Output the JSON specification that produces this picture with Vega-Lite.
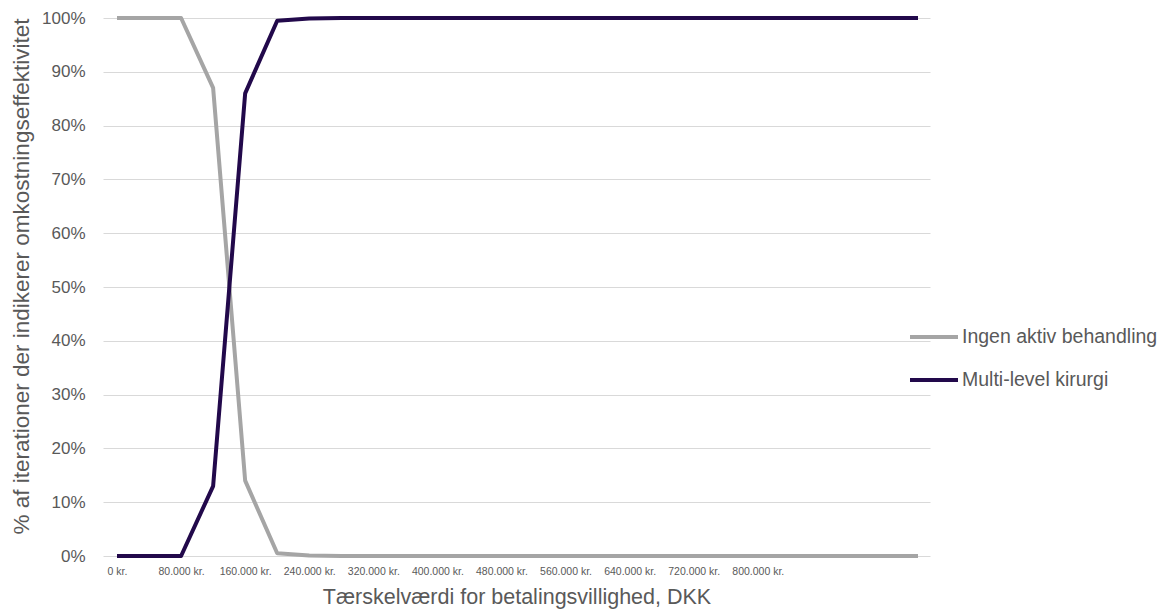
{
  "$schema": "https://vega.github.io/schema/vega-lite/v6.json",
  "width": 827,
  "height": 538,
  "autosize": "none",
  "padding": {"left": 103, "top": 18, "right": 230, "bottom": 59},
  "background": "white",
  "config": {
    "view": {"stroke": null},
    "font": "Liberation Sans"
  },
  "data": {
    "values": [
      {"wtp": 0, "serie": "Ingen aktiv behandling", "andel": 1.0},
      {"wtp": 40000, "serie": "Ingen aktiv behandling", "andel": 1.0},
      {"wtp": 80000, "serie": "Ingen aktiv behandling", "andel": 1.0},
      {"wtp": 120000, "serie": "Ingen aktiv behandling", "andel": 0.87},
      {"wtp": 160000, "serie": "Ingen aktiv behandling", "andel": 0.14},
      {"wtp": 200000, "serie": "Ingen aktiv behandling", "andel": 0.005},
      {"wtp": 240000, "serie": "Ingen aktiv behandling", "andel": 0.001},
      {"wtp": 280000, "serie": "Ingen aktiv behandling", "andel": 0.0},
      {"wtp": 320000, "serie": "Ingen aktiv behandling", "andel": 0.0},
      {"wtp": 360000, "serie": "Ingen aktiv behandling", "andel": 0.0},
      {"wtp": 400000, "serie": "Ingen aktiv behandling", "andel": 0.0},
      {"wtp": 440000, "serie": "Ingen aktiv behandling", "andel": 0.0},
      {"wtp": 480000, "serie": "Ingen aktiv behandling", "andel": 0.0},
      {"wtp": 520000, "serie": "Ingen aktiv behandling", "andel": 0.0},
      {"wtp": 560000, "serie": "Ingen aktiv behandling", "andel": 0.0},
      {"wtp": 600000, "serie": "Ingen aktiv behandling", "andel": 0.0},
      {"wtp": 640000, "serie": "Ingen aktiv behandling", "andel": 0.0},
      {"wtp": 680000, "serie": "Ingen aktiv behandling", "andel": 0.0},
      {"wtp": 720000, "serie": "Ingen aktiv behandling", "andel": 0.0},
      {"wtp": 760000, "serie": "Ingen aktiv behandling", "andel": 0.0},
      {"wtp": 800000, "serie": "Ingen aktiv behandling", "andel": 0.0},
      {"wtp": 840000, "serie": "Ingen aktiv behandling", "andel": 0.0},
      {"wtp": 880000, "serie": "Ingen aktiv behandling", "andel": 0.0},
      {"wtp": 920000, "serie": "Ingen aktiv behandling", "andel": 0.0},
      {"wtp": 960000, "serie": "Ingen aktiv behandling", "andel": 0.0},
      {"wtp": 1000000, "serie": "Ingen aktiv behandling", "andel": 0.0},
      {"wtp": 0, "serie": "Multi-level kirurgi", "andel": 0.0},
      {"wtp": 40000, "serie": "Multi-level kirurgi", "andel": 0.0},
      {"wtp": 80000, "serie": "Multi-level kirurgi", "andel": 0.0},
      {"wtp": 120000, "serie": "Multi-level kirurgi", "andel": 0.13},
      {"wtp": 160000, "serie": "Multi-level kirurgi", "andel": 0.86},
      {"wtp": 200000, "serie": "Multi-level kirurgi", "andel": 0.995},
      {"wtp": 240000, "serie": "Multi-level kirurgi", "andel": 0.999},
      {"wtp": 280000, "serie": "Multi-level kirurgi", "andel": 1.0},
      {"wtp": 320000, "serie": "Multi-level kirurgi", "andel": 1.0},
      {"wtp": 360000, "serie": "Multi-level kirurgi", "andel": 1.0},
      {"wtp": 400000, "serie": "Multi-level kirurgi", "andel": 1.0},
      {"wtp": 440000, "serie": "Multi-level kirurgi", "andel": 1.0},
      {"wtp": 480000, "serie": "Multi-level kirurgi", "andel": 1.0},
      {"wtp": 520000, "serie": "Multi-level kirurgi", "andel": 1.0},
      {"wtp": 560000, "serie": "Multi-level kirurgi", "andel": 1.0},
      {"wtp": 600000, "serie": "Multi-level kirurgi", "andel": 1.0},
      {"wtp": 640000, "serie": "Multi-level kirurgi", "andel": 1.0},
      {"wtp": 680000, "serie": "Multi-level kirurgi", "andel": 1.0},
      {"wtp": 720000, "serie": "Multi-level kirurgi", "andel": 1.0},
      {"wtp": 760000, "serie": "Multi-level kirurgi", "andel": 1.0},
      {"wtp": 800000, "serie": "Multi-level kirurgi", "andel": 1.0},
      {"wtp": 840000, "serie": "Multi-level kirurgi", "andel": 1.0},
      {"wtp": 880000, "serie": "Multi-level kirurgi", "andel": 1.0},
      {"wtp": 920000, "serie": "Multi-level kirurgi", "andel": 1.0},
      {"wtp": 960000, "serie": "Multi-level kirurgi", "andel": 1.0},
      {"wtp": 1000000, "serie": "Multi-level kirurgi", "andel": 1.0}
    ]
  },
  "mark": {"type": "line", "strokeWidth": 4, "strokeJoin": "round", "strokeCap": "butt"},
  "encoding": {
    "x": {
      "field": "wtp",
      "type": "quantitative",
      "scale": {"domain": [-17480, 1014980], "nice": false, "zero": false},
      "axis": {
        "title": "Tærskelværdi for betalingsvillighed, DKK",
        "titleFontSize": 21.5,
        "titleFontWeight": "normal",
        "titleColor": "#595959",
        "titlePadding": 10,
        "values": [0, 80000, 160000, 240000, 320000, 400000, 480000, 560000, 640000, 720000, 800000],
        "labelExpr": "replace(format(datum.value, ','), ',', '.') + ' kr.'",
        "labelFontSize": 10.5,
        "labelColor": "#595959",
        "labelPadding": 10,
        "grid": false,
        "domain": false,
        "ticks": false
      }
    },
    "y": {
      "field": "andel",
      "type": "quantitative",
      "scale": {"domain": [0, 1], "nice": false},
      "axis": {
        "title": "% af iterationer der indikerer omkostningseffektivitet",
        "titleFontSize": 22.5,
        "titleFontWeight": "normal",
        "titleColor": "#595959",
        "titlePadding": 8,
        "titleY": 258,
        "values": [0, 0.1, 0.2, 0.3, 0.4, 0.5, 0.6, 0.7, 0.8, 0.9, 1.0],
        "format": ".0%",
        "labelFontSize": 17,
        "labelColor": "#595959",
        "labelPadding": 18,
        "grid": true,
        "gridColor": "#d9d9d9",
        "gridWidth": 1,
        "domain": false,
        "ticks": false
      }
    },
    "color": {
      "field": "serie",
      "type": "nominal",
      "scale": {
        "domain": ["Ingen aktiv behandling", "Multi-level kirurgi"],
        "range": ["#a5a5a5", "#22094b"]
      },
      "legend": {
        "title": null,
        "orient": "none",
        "legendX": 805,
        "legendY": 293,
        "symbolType": "stroke",
        "symbolSize": 2304,
        "symbolStrokeWidth": 4,
        "labelFontSize": 19.5,
        "labelColor": "#595959",
        "labelOffset": 2,
        "labelLimit": 0,
        "rowPadding": 7
      }
    }
  }
}
